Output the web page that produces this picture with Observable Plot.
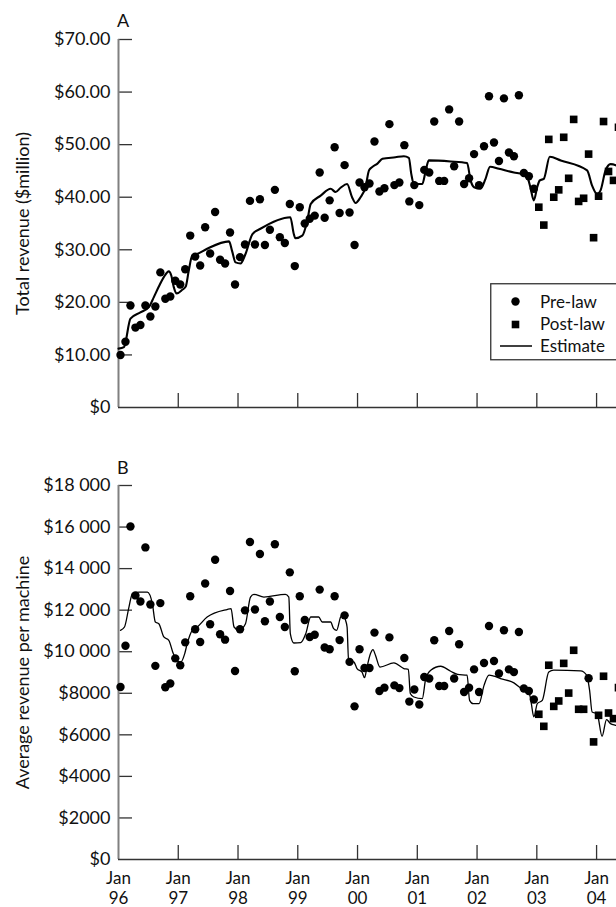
<!DOCTYPE html>
<html>
<head>
<meta charset="utf-8">
<script src="https://cdn.jsdelivr.net/npm/d3@7"></script>
<script src="https://cdn.jsdelivr.net/npm/@observablehq/plot@0.6"></script>
<style>
  html, body { margin: 0; padding: 0; background: white; overflow: hidden; }
  #wrap { position: relative; width: 616px; height: 907px; overflow: hidden; font-family: Lato, sans-serif; }
  .panel-label { position: absolute; font-size: 18px; line-height: 1; color: #111; }
  #legend { position: absolute; left: 490px; top: 283px; }
</style>
</head>
<body>
<div id="wrap">
  <div id="a"></div>
  <div id="b"></div>
</div>
<script>
// ---------- data ----------
// monthly observations, month index 0 = Jan 1996
const preA = [10.0, 12.5, 19.4, 15.2, 15.7, 19.4, 17.3, 19.2, 25.7, 20.7, 21.1, 24.1,
  23.4, 26.3, 32.7, 28.7, 27.0, 34.3, 29.3, 37.2, 28.1, 27.4, 33.3, 23.4,
  28.6, 31.0, 39.3, 31.0, 39.6, 30.9, 33.8, 41.4, 32.4, 31.3, 38.7, 26.9,
  38.1, 35.0, 35.9, 36.5, 44.7, 36.1, 39.4, 49.5, 37.0, 46.1, 37.1, 30.9,
  42.8, 41.9, 42.6, 50.6, 41.1, 41.7, 53.9, 42.3, 42.8, 49.9, 39.2, 42.3,
  38.5, 45.2, 44.7, 54.4, 43.1, 43.1, 56.7, 45.9, 54.4, 42.5, 43.6, 48.2,
  42.3, 49.7, 59.2, 50.4, 46.9, 58.8, 48.5, 47.8, 59.4, 44.6, 44.0, 41.6];
const postA = [38.1, 34.7, 51.0, 40.0, 41.4, 51.4, 43.6, 54.8, 39.2, 39.8, 48.2, 32.3,
  40.2, 54.4, 44.9, 43.2, 53.3];
const preB = [8300, 10290, 16030, 12710, 12420, 15020, 12270, 9320, 12340, 8290, 8470, 9680,
  9350, 10450, 12670, 11080, 10470, 13280, 11320, 14430, 10840, 10580, 12920, 9070,
  11080, 11990, 15280, 12030, 14700, 11470, 12420, 15170, 11670, 11190, 13820, 9060,
  12670, 11530, 10710, 10820, 12990, 10200, 10120, 12670, 10560, 11750, 9510, 7370,
  10120, 9220, 9220, 10920, 8110, 8270, 10690, 8380, 8250, 9700, 7600, 8180,
  7460, 8780, 8710, 10550, 8350, 8350, 11000, 8710, 10360, 8060, 8270, 9150,
  8060, 9460, 11240, 9550, 8950, 11030, 9150, 9020, 10950, 8230, 8110, 7700];
const postB = [6990, 6410, 9350, 7370, 7630, 9440, 8010, 10070, 7230, 7230, 8720, 5660,
  6940, 8820, 7050, 6780, 8270];
const postStart = 84;            // Jan 2003
const circleMonthsB = [94];      // drawn as a circle in the original panel B

const estAMonths = [0, 1.1, 2.4, 4.4, 6.1, 7.1, 8.1, 9.1, 10.1, 10.6, 11.1, 11.7, 12.8, 13.5, 14.1, 14.8, 15.8, 17.8,
  22.2, 22.8, 23.5, 24.5, 25.5, 26.9, 28.5, 34.5, 35.2, 35.5, 36.9, 37.9, 38.6, 40.6, 42.6, 43.6, 44.6, 45.9,
  46.9, 47.6, 48.6, 49.6, 50.3, 50.9, 52.0, 53.0, 55.6, 57.3, 58.3, 58.8, 59.3, 61.0, 61.7, 62.3, 66.7, 70.0,
  70.7, 71.4, 72.7, 73.7, 74.6, 76.4, 79.4, 81.1, 82.1, 82.7, 83.4, 84.1, 84.6, 85.4, 86.6, 88.8, 94.1, 95.1,
  96.1, 96.8, 97.8, 98.8, 100.0, 100.8];
const estAValues = [11.2, 11.5, 16.9, 18.1, 19.1, 21.0, 23.0, 24.8, 25.9, 25.1, 22.9, 21.7, 22.4, 23.0, 26.0, 28.9, 29.2, 30.2,
  31.6, 29.8, 27.6, 27.4, 29.2, 33.0, 34.0, 36.2, 33.0, 32.2, 32.7, 35.5, 38.7, 40.3, 41.6, 41.0, 41.8, 42.5,
  40.0, 38.9, 40.0, 41.9, 45.1, 45.7, 46.4, 47.3, 47.6, 47.8, 47.5, 44.4, 42.5, 42.5, 45.1, 47.0, 46.8, 46.5,
  43.2, 41.9, 41.6, 43.5, 45.8, 45.4, 44.7, 44.4, 43.8, 41.9, 39.4, 42.0, 43.2, 43.5, 47.7, 47.0, 45.1, 42.2,
  40.6, 41.3, 45.1, 46.3, 46.0, 45.5];

const estBMonths = [0.4, 1.2, 2.1, 2.8, 4.1, 5.8, 6.8, 7.4, 8.1, 9.1, 10.1, 11.0, 11.5, 12.5, 13.3, 13.8, 14.8, 15.8,
  17.8, 21.8, 22.6, 23.2, 24.2, 25.5, 26.5, 27.2, 29.2, 33.5, 34.2, 34.5, 35.2, 36.6, 37.6, 38.6, 40.2, 40.9,
  42.6, 43.2, 43.8, 44.6, 45.2, 45.6, 45.9, 46.2, 47.3, 47.9, 48.9, 49.4, 49.9, 50.6, 51.1, 51.6, 52.5, 55.3,
  57.3, 58.2, 58.6, 59.3, 61.0, 61.7, 62.7, 64.7, 66.7, 68.1, 70.0, 70.5, 71.2, 72.4, 73.4, 74.4, 75.4, 76.7,
  79.4, 80.9, 82.1, 82.6, 82.9, 83.4, 84.1, 85.1, 86.4, 87.4, 92.8, 94.0, 94.6, 95.1, 96.1, 97.1, 98.0, 98.8,
  99.8, 100.8];
const estBValues = [11030, 11190, 12150, 12800, 12870, 12870, 12310, 11430, 11350, 10710, 10550, 9910, 9670, 9500, 9910, 10390, 11030, 11190,
  11670, 12030, 12070, 11190, 11030, 11350, 12630, 12760, 12630, 12760, 12630, 10870, 10420, 10440, 10870, 11670, 11670, 11430,
  11430, 11110, 11030, 11670, 11800, 11510, 11190, 9590, 9500, 9190, 9020, 8750, 9260, 9910, 10100, 9830, 9260, 9460,
  9190, 9150, 7990, 7820, 7740, 8710, 9110, 9300, 9060, 8910, 8870, 7660, 7500, 7500, 8380, 8870, 8820, 8710,
  8500, 8230, 8060, 7900, 7500, 6860, 7500, 7660, 9020, 9110, 9080, 8870, 8140, 7100, 7020, 5930, 6730, 6540,
  6460, 6400];

const xTickMonths = [0, 12, 24, 36, 48, 60, 72, 84, 96];
const xTickLabels = ["Jan\n96", "Jan\n97", "Jan\n98", "Jan\n99", "Jan\n00", "Jan\n01", "Jan\n02", "Jan\n03", "Jan\n04"];
const yTicksA = [0, 10, 20, 30, 40, 50, 60, 70];
const yTicksB = [0, 2000, 4000, 6000, 8000, 10000, 12000, 14000, 16000, 18000];
const legendLabels = ["Pre-law", "Post-law", "Estimate"];

// ---------- helpers ----------
const OFF = 0.4; // observations sit a little after the month's start
const rows = (vals, start) => vals.map((v, i) => ({t: start + i + OFF, v, m: start + i}));
const est = (ms, vs) => ms.map((t, i) => ({t, v: vs[i]}));
const fmtA = v => v === 0 ? "$0" : "$" + v.toFixed(2);
const fmtB = v => v === 0 ? "$0" : v >= 10000 ? "$" + String(Math.floor(v / 1000)) + " " + String(v % 1000).padStart(3, "0") : "$" + v;
const xLab = d => xTickLabels[xTickMonths.indexOf(d)];

const W = 616, ML = 118, FONT = "Lato, sans-serif", FS = "18px";
const xDomain = [0, 100];

function panel({height, marginTop, marginBottom, yDomain, yTicks, fmt, label, pre, post, postCircles, estData, lineWidth, xLabels}) {
  const frameH = height - marginTop - marginBottom;
  const frameW = W - ML;
  const postSq = post.filter(d => !postCircles.includes(d.m));
  const postCi = post.filter(d => postCircles.includes(d.m));
  return Plot.plot({
    width: W, height, marginLeft: ML, marginRight: 0, marginTop, marginBottom,
    style: {fontFamily: FONT, fontSize: FS, color: "#111", background: "white", overflow: "visible"},
    x: {domain: xDomain, axis: null},
    y: {domain: yDomain, axis: null},
    marks: [
      // y-axis tick labels and title
      Plot.axisY(yTicks, {tickSize: 0, tickPadding: 8, tickFormat: fmt, label, labelAnchor: "center", labelOffset: 102, labelArrow: "none"}),
      xLabels ? Plot.axisX(xTickMonths, {tickSize: 0, tickPadding: 10, tickFormat: xLab, label: null, lineHeight: 1.2, fontSize: 17}) : null,
      // inward ticks
      Plot.ruleY(yTicks.filter(d => d > 0), {stroke: "#333", strokeWidth: 1.3, insetRight: frameW - 14}),
      Plot.ruleX(xTickMonths.filter(d => d > 0), {stroke: "#333", strokeWidth: 1.3, insetTop: frameH - 14}),
      // axis lines
      Plot.ruleX([0], {stroke: "#808080", strokeWidth: 2}),
      Plot.ruleY([0], {stroke: "#333", strokeWidth: 1.6}),
      // estimate
      Plot.line(estData, {x: "t", y: "v", stroke: "#000", strokeWidth: lineWidth, curve: "monotone-x"}),
      // observations
      Plot.dot(pre, {x: "t", y: "v", r: 4.2, fill: "#000", symbol: "circle"}),
      Plot.dot(postCi, {x: "t", y: "v", r: 4.2, fill: "#000", symbol: "circle"}),
      Plot.dot(postSq, {x: "t", y: "v", r: 4.3, fill: "#000", symbol: "square"})
    ]
  });
}

const plotA = panel({
  height: 440, marginTop: 39, marginBottom: 33, yDomain: [0, 70], yTicks: yTicksA, fmt: fmtA,
  label: "Total revenue ($million)", pre: rows(preA, 0), post: rows(postA, postStart), postCircles: [],
  estData: est(estAMonths, estAValues), lineWidth: 2.1, xLabels: false
});
const plotB = panel({
  height: 467, marginTop: 45, marginBottom: 48, yDomain: [0, 18000], yTicks: yTicksB, fmt: fmtB,
  label: "Average revenue per machine", pre: rows(preB, 0), post: rows(postB, postStart), postCircles: circleMonthsB,
  estData: est(estBMonths, estBValues), lineWidth: 1.3, xLabels: true
});
document.getElementById("a").appendChild(plotA);
document.getElementById("b").appendChild(plotB);
plotA.style.display = "block";
plotB.style.display = "block";

// panel letters
const wrap = document.getElementById("wrap");
[["A", 11], ["B", 458]].forEach(([t, top]) => {
  const d = document.createElement("div");
  d.className = "panel-label";
  d.style.left = "117px";
  d.style.top = top + "px";
  d.textContent = t;
  wrap.appendChild(d);
});

// legend (inside panel A)
const ns = "http://www.w3.org/2000/svg";
const lg = document.createElementNS(ns, "svg");
lg.setAttribute("id", "legend");
lg.setAttribute("width", 130);
lg.setAttribute("height", 80);
lg.style.fontFamily = FONT;
lg.style.fontSize = "17px";
const mk = (tag, attrs) => { const e = document.createElementNS(ns, tag); for (const k in attrs) e.setAttribute(k, attrs[k]); lg.appendChild(e); return e; };
mk("rect", {x: 0.75, y: 0.75, width: 200, height: 76, fill: "white", stroke: "#333", "stroke-width": 1.3});
mk("circle", {cx: 25.5, cy: 18.5, r: 4.2, fill: "#000"});
mk("rect", {x: 21.7, y: 37.7, width: 7.6, height: 7.6, fill: "#000"});
mk("line", {x1: 10, x2: 42, y1: 63, y2: 63, stroke: "#000", "stroke-width": 1.5});
[24.5, 46.5, 68.5].forEach((y, i) => { const t = mk("text", {x: 50, y, fill: "#111"}); t.textContent = legendLabels[i]; });
wrap.appendChild(lg);
</script>
</body>
</html>
